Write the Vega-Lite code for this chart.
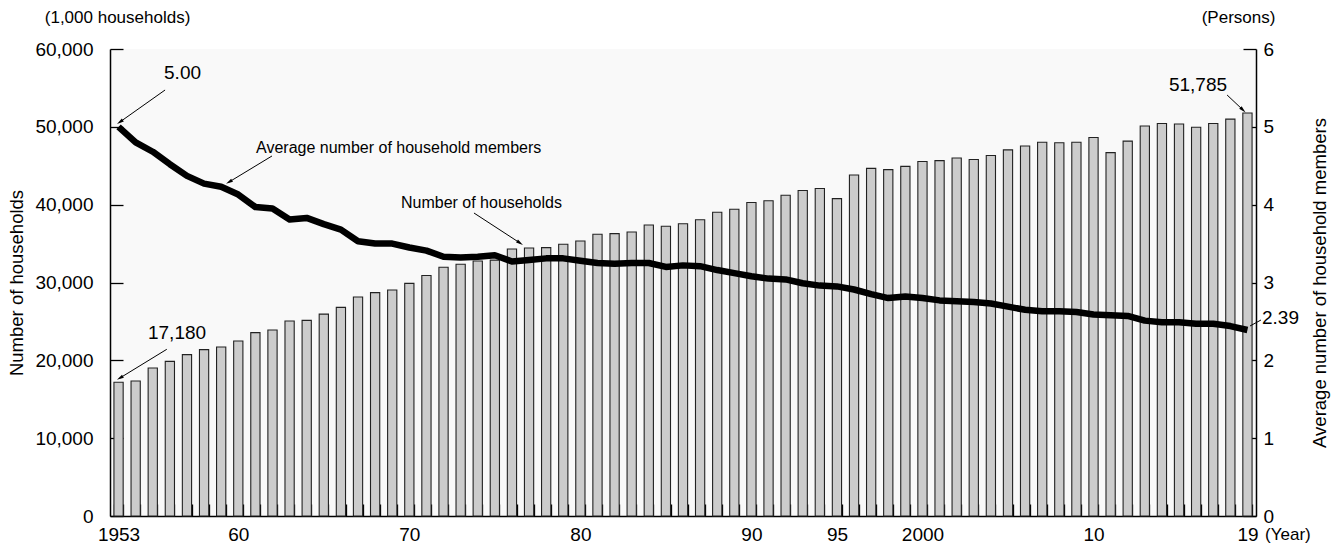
{
  "$schema": "https://vega.github.io/schema/vega-lite/v6.json",
  "width": 1146,
  "height": 467,
  "autosize": {"type": "none"},
  "padding": {"left": 110, "top": 49, "right": 84, "bottom": 29},
  "background": "white",
  "config": {
    "font": "Liberation Sans",
    "view": {"fill": "#f9f9f9", "stroke": null},
    "axis": {
      "labelFont": "Liberation Sans",
      "titleFont": "Liberation Sans",
      "labelColor": "#000",
      "titleColor": "#000",
      "tickColor": "#000",
      "domainColor": "#000",
      "domainWidth": 1.5,
      "tickWidth": 1.3,
      "grid": false,
      "titleFontWeight": "normal"
    },
    "text": {"font": "Liberation Sans", "color": "#000"}
  },
  "datasets": {
    "households": [
      {"year": 1953, "households": 17180, "members": 5.00},
      {"year": 1954, "households": 17340, "members": 4.80},
      {"year": 1955, "households": 19010, "members": 4.68},
      {"year": 1956, "households": 19870, "members": 4.52},
      {"year": 1957, "households": 20730, "members": 4.37},
      {"year": 1958, "households": 21370, "members": 4.27},
      {"year": 1959, "households": 21710, "members": 4.23},
      {"year": 1960, "households": 22476, "members": 4.13},
      {"year": 1961, "households": 23560, "members": 3.97},
      {"year": 1962, "households": 23900, "members": 3.95},
      {"year": 1963, "households": 25050, "members": 3.81},
      {"year": 1964, "households": 25140, "members": 3.83},
      {"year": 1965, "households": 25940, "members": 3.75},
      {"year": 1966, "households": 26810, "members": 3.68},
      {"year": 1967, "households": 28140, "members": 3.53},
      {"year": 1968, "households": 28700, "members": 3.50},
      {"year": 1969, "households": 29040, "members": 3.50},
      {"year": 1970, "households": 29887, "members": 3.45},
      {"year": 1971, "households": 30890, "members": 3.41},
      {"year": 1972, "households": 31950, "members": 3.33},
      {"year": 1973, "households": 32340, "members": 3.32},
      {"year": 1974, "households": 32770, "members": 3.33},
      {"year": 1975, "households": 32877, "members": 3.35},
      {"year": 1976, "households": 34310, "members": 3.27},
      {"year": 1977, "households": 34430, "members": 3.29},
      {"year": 1978, "households": 34480, "members": 3.31},
      {"year": 1979, "households": 34910, "members": 3.31},
      {"year": 1980, "households": 35338, "members": 3.28},
      {"year": 1981, "households": 36190, "members": 3.25},
      {"year": 1982, "households": 36280, "members": 3.24},
      {"year": 1983, "households": 36490, "members": 3.25},
      {"year": 1984, "households": 37390, "members": 3.25},
      {"year": 1985, "households": 37226, "members": 3.20},
      {"year": 1986, "households": 37544, "members": 3.22},
      {"year": 1987, "households": 38064, "members": 3.21},
      {"year": 1988, "households": 39028, "members": 3.16},
      {"year": 1989, "households": 39417, "members": 3.12},
      {"year": 1990, "households": 40273, "members": 3.08},
      {"year": 1991, "households": 40506, "members": 3.05},
      {"year": 1992, "households": 41210, "members": 3.04},
      {"year": 1993, "households": 41826, "members": 2.99},
      {"year": 1994, "households": 42069, "members": 2.96},
      {"year": 1995, "households": 40770, "members": 2.95},
      {"year": 1996, "households": 43807, "members": 2.91},
      {"year": 1997, "households": 44669, "members": 2.85},
      {"year": 1998, "households": 44496, "members": 2.80},
      {"year": 1999, "households": 44923, "members": 2.82},
      {"year": 2000, "households": 45545, "members": 2.80},
      {"year": 2001, "households": 45664, "members": 2.77},
      {"year": 2002, "households": 46005, "members": 2.76},
      {"year": 2003, "households": 45800, "members": 2.75},
      {"year": 2004, "households": 46323, "members": 2.73},
      {"year": 2005, "households": 47043, "members": 2.69},
      {"year": 2006, "households": 47531, "members": 2.65},
      {"year": 2007, "households": 48023, "members": 2.63},
      {"year": 2008, "households": 47957, "members": 2.63},
      {"year": 2009, "households": 48013, "members": 2.62},
      {"year": 2010, "households": 48638, "members": 2.59},
      {"year": 2011, "households": 46684, "members": 2.58},
      {"year": 2012, "households": 48170, "members": 2.57},
      {"year": 2013, "households": 50112, "members": 2.51},
      {"year": 2014, "households": 50431, "members": 2.49},
      {"year": 2015, "households": 50361, "members": 2.49},
      {"year": 2016, "households": 49945, "members": 2.47},
      {"year": 2017, "households": 50425, "members": 2.47},
      {"year": 2018, "households": 50991, "members": 2.44},
      {"year": 2019, "households": 51785, "members": 2.39}
    ]
  },
  "layer": [
    {
      "data": {"name": "households"},
      "encoding": {
        "x": {
          "field": "year",
          "type": "ordinal",
          "scale": {"paddingInner": 0.46, "paddingOuter": 0.23},
          "axis": {
            "title": null,
            "tickBand": "extent",
            "tickSize": -12,
            "labelAngle": 0,
            "labelFontSize": 19,
            "labelPadding": 21,
            "labelOverlap": false,
            "labelBound": false,
            "labelExpr": "(datum.value == 1953 || datum.value == 2000) ? '' + datum.value : ((datum.value == 1960 || datum.value == 1970 || datum.value == 1980 || datum.value == 1990 || datum.value == 1995 || datum.value == 2010 || datum.value == 2019) ? substring('' + datum.value, 2) : '')"
          }
        }
      },
      "layer": [
        {
          "mark": {"type": "bar", "fill": "#cccccc", "stroke": "#222222", "strokeWidth": 1.1},
          "encoding": {
            "y": {
              "field": "households",
              "type": "quantitative",
              "scale": {"domain": [0, 60000], "nice": false},
              "axis": {
                "title": "Number of households",
                "titleFontSize": 18.5,
                "titlePadding": 8,
                "values": [0, 10000, 20000, 30000, 40000, 50000, 60000],
                "format": ",d",
                "tickSize": -13,
                "labelPadding": 30,
                "labelFontSize": 19
              }
            }
          }
        },
        {
          "mark": {"type": "line", "color": "#000000", "strokeWidth": 6.5, "strokeJoin": "round"},
          "encoding": {
            "y": {
              "field": "members",
              "type": "quantitative",
              "scale": {"domain": [0, 6], "nice": false},
              "axis": {
                "orient": "right",
                "title": "Average number of household members",
                "titleFontSize": 18.5,
                "titleAngle": 270,
                "titlePadding": 56,
                "values": [0, 1, 2, 3, 4, 5, 6],
                "tickSize": -13,
                "labelPadding": 20,
                "labelFontSize": 19
              }
            }
          }
        }
      ],
      "resolve": {"scale": {"y": "independent"}}
    },
    {
      "encoding": {
        "x": {"field": "x", "type": "quantitative", "scale": {"domain": [1952.5, 2019.5], "nice": false, "zero": false}, "axis": null},
        "y": {"field": "y", "type": "quantitative", "scale": {"domain": [0, 60000], "nice": false, "zero": false}, "axis": null}
      },
      "layer": [
        {
          "data": {"values": [
            {"x": 1955.72, "y": 54732, "x2": 1953.08, "y2": 50621},
            {"x": 1961.97, "y": 46253, "x2": 1959.46, "y2": 42912},
            {"x": 1973.78, "y": 38929, "x2": 1976.47, "y2": 35075},
            {"x": 1955.82, "y": 21418, "x2": 1953.08, "y2": 17730},
            {"x": 2017.81, "y": 54090, "x2": 2018.74, "y2": 52163},
            {"x": 2019.15, "y": 24411, "x2": 2019.79, "y2": 25182}
          ]},
          "mark": {"type": "rule", "color": "#000000", "strokeWidth": 1},
          "encoding": {"x2": {"field": "x2"}, "y2": {"field": "y2"}}
        },
        {
          "data": {"values": [{"x": 1953.08, "y": 50621}]},
          "mark": {"type": "point", "shape": "M0,-1L0.5,1L-0.5,1Z", "filled": true, "color": "#000", "size": 50, "angle": 234.6, "opacity": 1},
          "encoding": {}
        },
        {
          "data": {"values": [{"x": 1959.46, "y": 42912}]},
          "mark": {"type": "point", "shape": "M0,-1L0.5,1L-0.5,1Z", "filled": true, "color": "#000", "size": 50, "angle": 238.8, "opacity": 1},
          "encoding": {}
        },
        {
          "data": {"values": [{"x": 1976.47, "y": 35075}]},
          "mark": {"type": "point", "shape": "M0,-1L0.5,1L-0.5,1Z", "filled": true, "color": "#000", "size": 50, "angle": 123.1, "opacity": 1},
          "encoding": {}
        },
        {
          "data": {"values": [{"x": 1953.08, "y": 17730}]},
          "mark": {"type": "point", "shape": "M0,-1L0.5,1L-0.5,1Z", "filled": true, "color": "#000", "size": 50, "angle": 238.4, "opacity": 1},
          "encoding": {}
        },
        {
          "data": {"values": [{"x": 2018.74, "y": 52163}]},
          "mark": {"type": "point", "shape": "M0,-1L0.5,1L-0.5,1Z", "filled": true, "color": "#000", "size": 50, "angle": 133.2, "opacity": 1},
          "encoding": {}
        },
        {
          "data": {"values": [
            {"label": "5.00", "x": 1956.74, "y": 56917},
            {"label": "17,180", "x": 1956.42, "y": 23512},
            {"label": "51,785", "x": 2016.11, "y": 55375}
          ]},
          "mark": {"type": "text", "fontSize": 19, "align": "center", "baseline": "middle"},
          "encoding": {"text": {"field": "label"}}
        },
        {
          "data": {"values": [{"label": "2.39", "x": 2019.85, "y": 25439}]},
          "mark": {"type": "text", "fontSize": 19, "align": "left", "baseline": "middle"},
          "encoding": {"text": {"field": "label"}}
        },
        {
          "data": {"values": [
            {"label": "Average number of household members", "x": 1961.04, "y": 47281},
            {"label": "Number of households", "x": 1969.51, "y": 40253}
          ]},
          "mark": {"type": "text", "fontSize": 16, "align": "left", "baseline": "middle"},
          "encoding": {"text": {"field": "label"}}
        },
        {
          "data": {"values": [
            {"label": "(1,000 households)", "x": 1952.94, "y": 63983},
            {"label": "(Persons)", "x": 2018.48, "y": 63983}
          ]},
          "mark": {"type": "text", "fontSize": 17, "align": "center", "baseline": "middle"},
          "encoding": {"text": {"field": "label"}}
        },
        {
          "data": {"values": [{"label": "(Year)", "x": 2020.03, "y": -2440}]},
          "mark": {"type": "text", "fontSize": 17, "align": "left", "baseline": "middle"},
          "encoding": {"text": {"field": "label"}}
        }
      ]
    }
  ],
  "resolve": {"scale": {"x": "independent", "y": "independent"}}
}
